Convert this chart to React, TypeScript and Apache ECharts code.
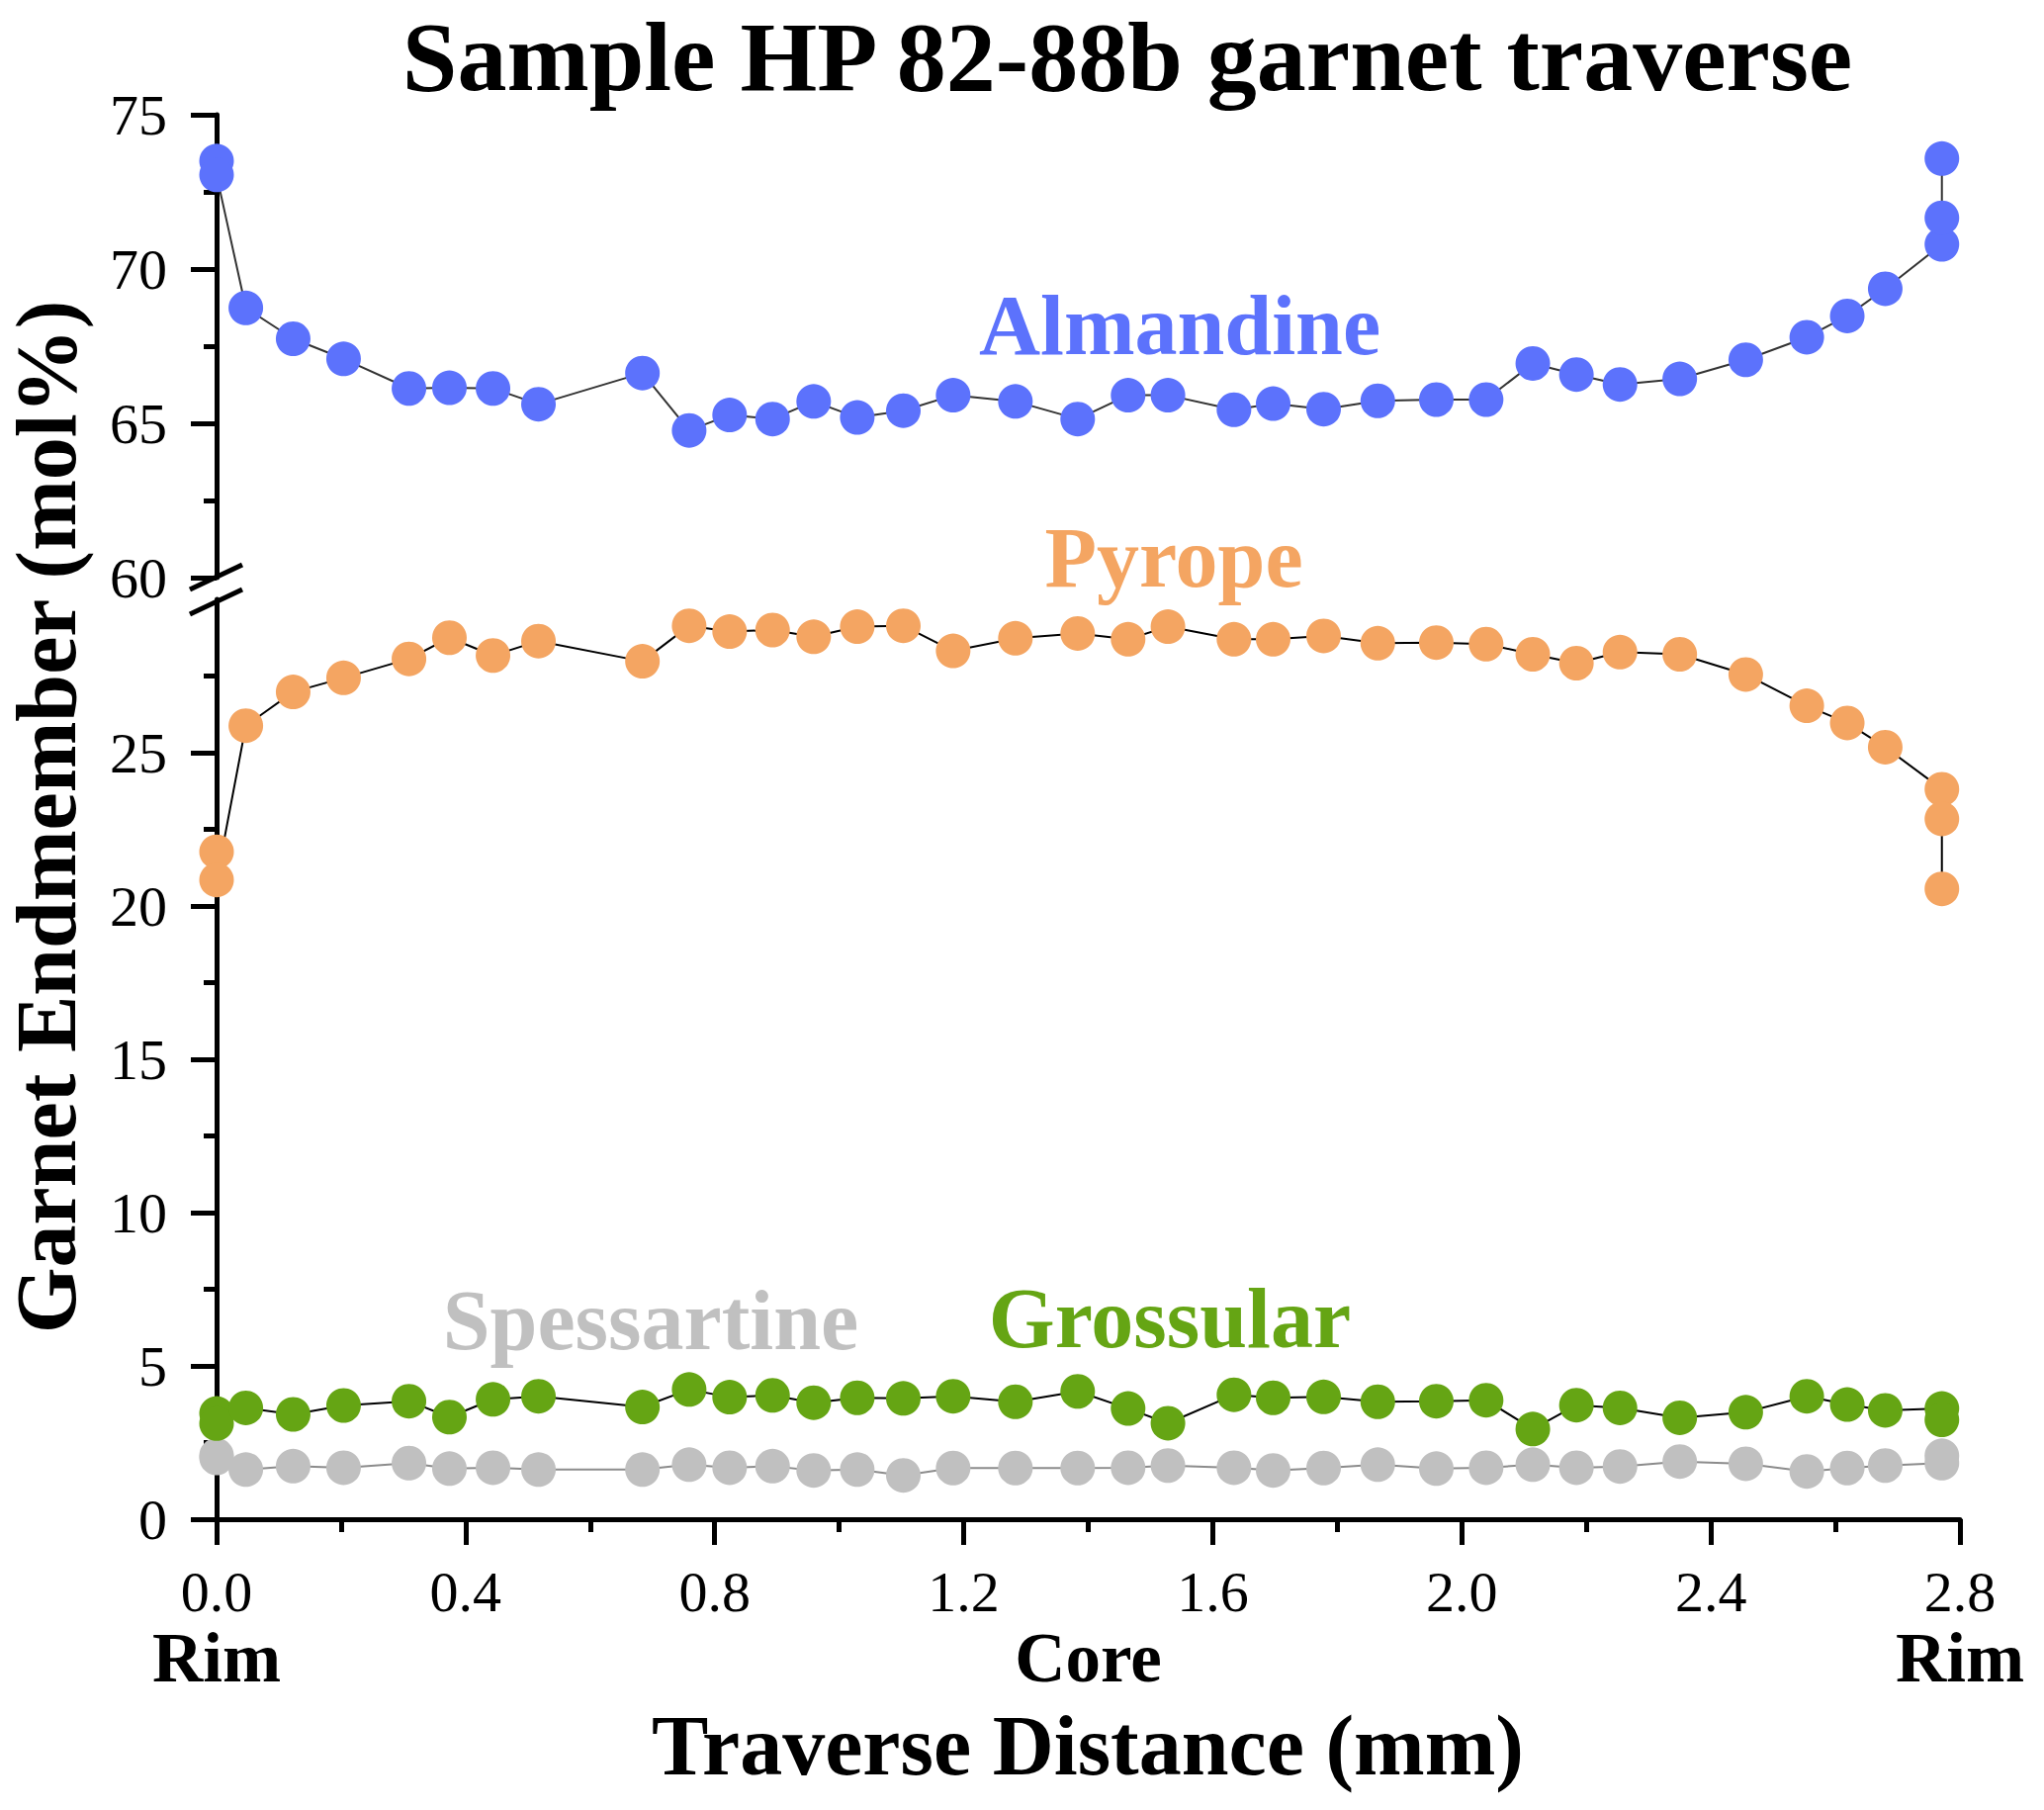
import React, { useEffect, useRef } from "react";
import * as echarts from "echarts";

const FONT = '"Liberation Serif", "Times New Roman", Times, serif';

// Traverse distances (mm) of the interior analysis points
const distMid = [
  0.047, 0.123, 0.204, 0.309, 0.374, 0.444, 0.517, 0.684, 0.759, 0.824, 0.893,
  0.959, 1.029, 1.103, 1.183, 1.283, 1.383, 1.464, 1.528, 1.634, 1.697, 1.778,
  1.865, 1.959, 2.039, 2.114, 2.184, 2.254, 2.35, 2.456, 2.554, 2.619, 2.68,
];
const rimStartX = 0;
const rimEndX = 2.771;

// Almandine (mol%)
const almStart = [73.5, 73.05];
const almMid = [
  68.74, 67.74, 67.09, 66.13, 66.15, 66.13, 65.62, 66.63, 64.77, 65.27, 65.14,
  65.71, 65.19, 65.41, 65.91, 65.71, 65.14, 65.91, 65.91, 65.44, 65.64, 65.46,
  65.73, 65.77, 65.77, 66.94, 66.58, 66.26, 66.44, 67.06, 67.79, 68.48, 69.36,
];
const almEnd = [70.8, 71.66, 73.58];

// Pyrope (mol%)
const pyStart = [21.77, 20.85];
const pyMid = [
  25.88, 26.98, 27.44, 28.06, 28.75, 28.17, 28.64, 27.98, 29.14, 28.95, 29.0,
  28.78, 29.11, 29.14, 28.32, 28.73, 28.89, 28.7, 29.11, 28.7, 28.7, 28.81,
  28.57, 28.59, 28.54, 28.21, 27.92, 28.28, 28.21, 27.55, 26.53, 25.97, 25.18,
];
const pyEnd = [23.81, 22.84, 20.56];

// Grossular (mol%)
const grStart = [3.45, 3.12];
const grMid = [
  3.63, 3.42, 3.71, 3.85, 3.33, 3.91, 4.01, 3.66, 4.23, 3.98, 4.04, 3.8, 3.96,
  3.94, 4.01, 3.83, 4.17, 3.61, 3.13, 4.06, 3.96, 3.99, 3.83, 3.85, 3.88, 2.94,
  3.72, 3.63, 3.31, 3.49, 4.01, 3.74, 3.55,
];
const grEnd = [3.61, 3.24];

// Spessartine (mol%)
const spStart = [2.08, 2.0];
const spMid = [
  1.62, 1.73, 1.68, 1.83, 1.65, 1.68, 1.62, 1.62, 1.78, 1.68, 1.73, 1.59, 1.62,
  1.43, 1.67, 1.67, 1.67, 1.68, 1.75, 1.68, 1.59, 1.67, 1.78, 1.65, 1.68, 1.78,
  1.68, 1.72, 1.88, 1.81, 1.56, 1.67, 1.75,
];
const spEnd = [1.83, 2.07];

const upperTicks = [60, 65, 70, 75];
const lowerTicks = [0, 5, 10, 15, 20, 25];
const xTicks = [0, 0.4, 0.8, 1.2, 1.6, 2.0, 2.4, 2.8];
const positionLabels = [
  { x: 0, text: "Rim" },
  { x: 1.4, text: "Core" },
  { x: 2.8, text: "Rim" },
];

const COLORS = {
  alm: "#5c72fc",
  py: "#f4a562",
  gr: "#65a514",
  sp: "#c0c0c0",
};

function build(start: number[], mid: number[], end: number[]) {
  const pts: number[][] = [];
  start.forEach((v) => pts.push([rimStartX, v]));
  mid.forEach((v, i) => pts.push([distMid[i], v]));
  end.forEach((v) => pts.push([rimEndX, v]));
  return pts;
}

const axisBlack = { color: "#000", width: 5 };

function makeY(gridIndex: number, min: number, max: number, ticks: number[]) {
  return {
    type: "value",
    gridIndex,
    min,
    max,
    interval: 5,
    axisLine: { show: true, lineStyle: axisBlack },
    axisTick: {
      show: true,
      inside: false,
      length: 26,
      lineStyle: axisBlack,
      customValues: ticks,
    },
    minorTick: { show: true, splitNumber: 2, length: 13, lineStyle: axisBlack },
    axisLabel: {
      customValues: ticks,
      fontSize: 58,
      lineHeight: 50,
      fontFamily: FONT,
      color: "#000",
      margin: 50,
    },
    splitLine: { show: false },
    minorSplitLine: { show: false },
  };
}

export default function App() {
  const ref = useRef<HTMLDivElement>(null);
  useEffect(() => {
    if (!ref.current) return;
    const chart = echarts.init(ref.current, undefined, { renderer: "svg" });
    const series = (
      name: string,
      data: number[][],
      color: string,
      lineColor: string,
      grid: number
    ) => ({
      name,
      type: "line",
      xAxisIndex: grid,
      yAxisIndex: grid,
      data,
      symbol: "circle",
      symbolSize: 35,
      showSymbol: true,
      clip: false,
      itemStyle: { color },
      lineStyle: { color: lineColor, width: 2 },
      emphasis: { disabled: true },
    });
    chart.setOption({
      animation: false,
      backgroundColor: "#fff",
      grid: [
        { left: 219, right: 85, top: 116, height: 468 },
        { left: 219, right: 85, top: 606, height: 930 },
      ],
      xAxis: [
        { type: "value", gridIndex: 0, min: 0, max: 2.8, show: false },
        {
          type: "value",
          gridIndex: 1,
          min: 0,
          max: 2.8,
          interval: 0.4,
          axisLine: { show: true, onZero: false, lineStyle: axisBlack },
          axisTick: {
            show: true,
            inside: false,
            length: 26,
            lineStyle: axisBlack,
            customValues: xTicks,
          },
          minorTick: {
            show: true,
            splitNumber: 2,
            length: 13,
            lineStyle: axisBlack,
          },
          axisLabel: {
            customValues: xTicks,
            formatter: (v: number) => v.toFixed(1),
            fontSize: 58,
            lineHeight: 50,
            fontFamily: FONT,
            color: "#000",
            margin: 48,
          },
          splitLine: { show: false },
        },
      ],
      yAxis: [makeY(0, 60, 75, upperTicks), makeY(1, 0, 30, lowerTicks)],
      series: [
        series("Spessartine", build(spStart, spMid, spEnd), COLORS.sp, "#8c8c8c", 1),
        series("Grossular", build(grStart, grMid, grEnd), COLORS.gr, "#000", 1),
        series("Pyrope", build(pyStart, pyMid, pyEnd), COLORS.py, "#000", 1),
        series("Almandine", build(almStart, almMid, almEnd), COLORS.alm, "#333", 0),
      ],
    });

    const txt = (
      x: number,
      y: number,
      text: string,
      size: number,
      fill: string,
      rotation = 0,
      lineHeight = size
    ) => ({
      type: "text",
      x,
      y,
      rotation,
      silent: true,
      style: {
        text,
        fontSize: size,
        lineHeight,
        fontWeight: "bold",
        fontFamily: FONT,
        fill,
        textAlign: "center",
        textVerticalAlign: "middle",
      },
    });

    const graphics: any[] = [
      txt(1140, 57, "Sample HP 82-88b garnet traverse", 100, "#000", 0, 84),
      txt(47, 826, "Garnet Endmember (mol%)", 86, "#000", Math.PI / 2),
      txt(1100, 1765, "Traverse Distance (mm)", 86, "#000"),
      txt(1193, 329, "Almandine", 86, COLORS.alm),
      txt(1187, 564, "Pyrope", 86, COLORS.py),
      txt(658, 1335, "Spessartine", 86, COLORS.sp),
      txt(1183, 1333, "Grossular", 86, COLORS.gr),
      {
        type: "line",
        silent: true,
        shape: { x1: 192, y1: 596, x2: 245, y2: 571 },
        style: { stroke: "#000", lineWidth: 5 },
      },
      {
        type: "line",
        silent: true,
        shape: { x1: 192, y1: 621, x2: 245, y2: 596 },
        style: { stroke: "#000", lineWidth: 5 },
      },
    ];
    positionLabels.forEach((p) => {
      const px = chart.convertToPixel({ gridIndex: 1 }, [p.x, 0]) as number[];
      graphics.push(txt(px[0], 1676, p.text, 71, "#000", 0, 54));
    });
    chart.setOption({ graphic: graphics });

    return () => chart.dispose();
  }, []);
  return (
    <div
      ref={ref}
      style={{ position: "absolute", left: 0, top: 0, width: 2067, height: 1830 }}
    />
  );
}
